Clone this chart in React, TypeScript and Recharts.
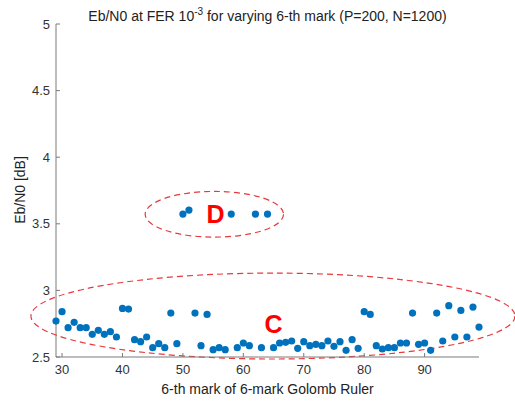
import React from 'react';
import { ScatterChart, Scatter, XAxis, YAxis, ReferenceArea, ReferenceDot } from 'recharts';

const marks = [
  29, 30, 31, 32, 33, 34, 35, 36, 37, 38, 39, 40, 41, 42, 43, 44, 45, 46, 47, 48, 49, 50,
  51, 52, 53, 54, 55, 56, 57, 58, 59, 60, 61, 62, 63, 64, 65, 66, 67, 68, 69, 70, 71, 72,
  73, 74, 75, 76, 77, 78, 79, 80, 81, 82, 83, 84, 85, 86, 87, 88, 89, 90, 91, 92, 93, 94,
  95, 96, 97, 98, 99,
];

const ebn0 = [
  2.77, 2.84, 2.72, 2.76, 2.72, 2.72, 2.67, 2.7, 2.67, 2.69, 2.65, 2.865, 2.86, 2.63, 2.615,
  2.65, 2.57, 2.6, 2.57, 2.83, 2.6, 3.573, 3.603, 2.83, 2.585, 2.82, 2.555, 2.57, 2.555,
  3.573, 2.57, 2.605, 2.585, 3.573, 2.57, 3.573, 2.57, 2.605, 2.61, 2.62, 2.565, 2.615,
  2.585, 2.595, 2.585, 2.62, 2.58, 2.615, 2.55, 2.63, 2.565, 2.84, 2.82, 2.585, 2.56, 2.57,
  2.57, 2.605, 2.605, 2.83, 2.595, 2.605, 2.55, 2.83, 2.62, 2.885, 2.65, 2.85, 2.65, 2.875,
  2.725,
];

const xTicks = [30, 40, 50, 60, 70, 80, 90];
const yTicks = [2.5, 3, 3.5, 4, 4.5, 5];

const points = marks.map((m, i) => ({ x: m, y: ebn0[i] }));

const FONT = '"Liberation Sans", Arial, sans-serif';
const AXIS = '#7a7a7a';
const TEXT = '#333';

const Ellipse = (props: any) => {
  const { x, y, width, height } = props;
  return (
    <ellipse
      cx={x + width / 2}
      cy={y + height / 2}
      rx={Math.abs(width) / 2}
      ry={Math.abs(height) / 2}
      fill="none"
      stroke="#e8393c"
      strokeWidth={1.2}
      strokeDasharray="6 4"
    />
  );
};

const Letter = (text: string) => (props: any) => (
  <text
    x={props.cx}
    y={props.cy}
    textAnchor="middle"
    dominantBaseline="central"
    fill="#ff0000"
    fontSize={25}
    fontWeight="bold"
    fontFamily={FONT}
  >
    {text}
  </text>
);

const XTick = (props: any) => {
  const { x, y, payload } = props;
  return (
    <g>
      <line x1={x} x2={x} y1={357} y2={353} stroke={AXIS} />
      <text x={x} y={y + 15} textAnchor="middle" fill={TEXT} fontSize={13} fontFamily={FONT}>
        {payload.value}
      </text>
    </g>
  );
};

const YTick = (props: any) => {
  const { y, payload } = props;
  return (
    <g>
      <line x1={56} x2={60} y1={y} y2={y} stroke={AXIS} />
      <text x={50} y={y} textAnchor="end" dominantBaseline="central" fill={TEXT} fontSize={13} fontFamily={FONT}>
        {payload.value}
      </text>
    </g>
  );
};

export default function App() {
  return (
    <div style={{ position: 'absolute', left: 0, top: 0, width: 515, height: 401, background: '#fff', fontFamily: FONT }}>
      <div
        style={{
          position: 'absolute',
          left: 56,
          width: 423,
          top: 6,
          textAlign: 'center',
          fontSize: 14,
          color: '#222',
        }}
      >
        Eb/N0 at FER 10<sup style={{ fontSize: 10 }}>-3</sup> for varying 6-th mark (P=200, N=1200)
      </div>
      <div
        style={{
          position: 'absolute',
          left: 56,
          width: 423,
          top: 381,
          textAlign: 'center',
          fontSize: 14,
          color: '#222',
        }}
      >
        6-th mark of 6-mark Golomb Ruler
      </div>
      <div
        style={{
          position: 'absolute',
          left: 20,
          top: 190,
          transform: 'translate(-50%, -50%) rotate(-90deg)',
          fontSize: 14,
          color: '#222',
          whiteSpace: 'nowrap',
        }}
      >
        Eb/N0 [dB]
      </div>
      <ScatterChart width={515} height={401} margin={{ top: 24, right: 36, left: 10, bottom: 0 }} style={{ position: 'absolute', left: 0, top: 0 }}>
        <XAxis
          type="number"
          dataKey="x"
          domain={[29, 99]}
          ticks={xTicks}
          height={44}
          stroke={AXIS}
          tickLine={false}
          tickSize={0}
          tick={<XTick />}
        />
        <YAxis
          type="number"
          dataKey="y"
          domain={[2.5, 5]}
          ticks={yTicks}
          width={46}
          stroke={AXIS}
          tickLine={false}
          tickSize={0}
          tick={<YTick />}
        />
        <ReferenceArea x1={24.85} x2={104.95} y1={2.485} y2={3.13} ifOverflow="visible" shape={Ellipse} />
        <ReferenceArea x1={43.76} x2={66.65} y1={3.4} y2={3.743} ifOverflow="visible" shape={Ellipse} />
        <Scatter data={points} fill="#0072BD" isAnimationActive={false} shape={(p: any) => <circle cx={p.cx} cy={p.cy} r={3.6} fill="#0072BD" />} />
        <ReferenceDot x={55.4} y={3.573} r={0} ifOverflow="visible" shape={Letter('D')} />
        <ReferenceDot x={65} y={2.75} r={0} ifOverflow="visible" shape={Letter('C')} />
      </ScatterChart>
    </div>
  );
}
